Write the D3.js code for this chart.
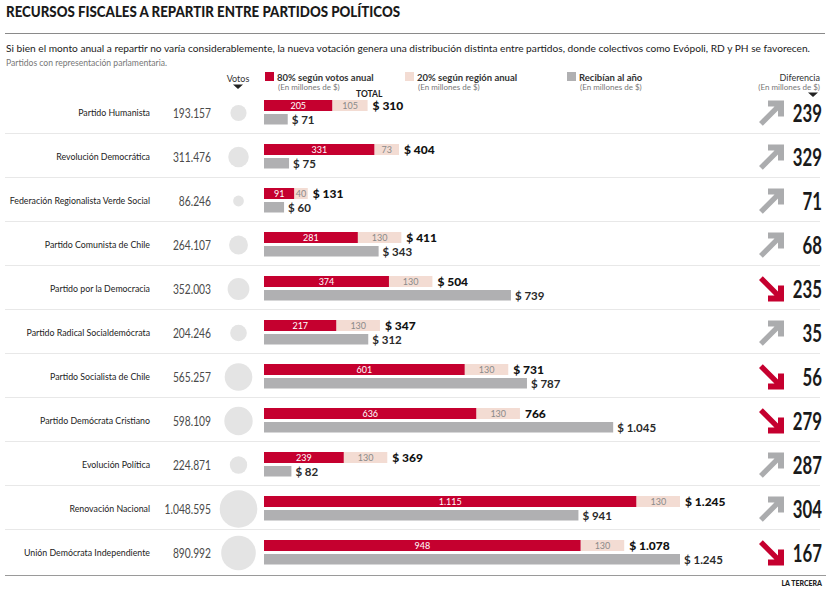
<!DOCTYPE html>
<html><head><meta charset="utf-8">
<script src="https://cdn.jsdelivr.net/npm/d3@7"></script>
<style>
body{margin:0;background:#fff;}
svg{display:block;}
text{font-family:Lato,"Open Sans",sans-serif;}
</style></head><body>
<svg id="chart" width="840" height="589"></svg>
<script>
const parties = ["Partido Humanista","Revolución Democrática","Federación Regionalista Verde Social","Partido Comunista de Chile","Partido por la Democracia","Partido Radical Socialdemócrata","Partido Socialista de Chile","Partido Demócrata Cristiano","Evolución Política","Renovación Nacional","Unión Demócrata Independiente"];
const votes = [193157,311476,86246,264107,352003,204246,565257,598109,224871,1048595,890992];
const votesLabels = ["193.157","311.476","86.246","264.107","352.003","204.246","565.257","598.109","224.871","1.048.595","890.992"];
const byVotes = [205,331,91,281,374,217,601,636,239,1115,948];
const byVotesLabels = ["205","331","91","281","374","217","601","636","239","1.115","948"];
const byRegion = [105,73,40,130,130,130,130,130,130,130,130];
const totalLabels = ["$ 310","$ 404","$ 131","$ 411","$ 504","$ 347","$ 731","766","$ 369","$ 1.245","$ 1.078"];
const received = [71,75,60,343,739,312,787,1045,82,941,1245];
const receivedLabels = ["$ 71","$ 75","$ 60","$ 343","$ 739","$ 312","$ 787","$ 1.045","$ 82","$ 941","$ 1.245"];
const diffValues = [239,329,71,68,235,35,56,279,287,304,167];
const diffDirection = ["up","up","up","up","down","up","down","down","up","up","down"];

const RED="#c5002f", PINK="#f3dcd3", GRAY="#b0b0b2", ARROWGRAY="#abacae";
const svg = d3.select("#chart");

// Header
svg.append("text").attr("x",6).attr("y",17).attr("font-size",14.5).attr("font-weight",900)
  .attr("fill","#1a1a1a").attr("textLength",394).attr("lengthAdjust","spacingAndGlyphs")
  .text("RECURSOS FISCALES A REPARTIR ENTRE PARTIDOS POLÍTICOS");
svg.append("line").attr("x1",5).attr("x2",825).attr("y1",33.5).attr("y2",33.5).attr("stroke","#8a8a8a").attr("stroke-width",1);
svg.append("text").attr("x",6).attr("y",52).attr("font-size",10).attr("fill","#1a1a1a")
  .attr("textLength",804).attr("lengthAdjust","spacingAndGlyphs")
  .text("Si bien el monto anual a repartir no varía considerablemente, la nueva votación genera una distribución distinta entre partidos, donde colectivos como Evópoli, RD y PH se favorecen.");
svg.append("text").attr("x",6).attr("y",66).attr("font-size",8.5).attr("fill","#777")
  .attr("textLength",161).attr("lengthAdjust","spacingAndGlyphs")
  .text("Partidos con representación parlamentaria.");

// Legend
const lg = svg.append("g");
lg.append("text").attr("x",238).attr("y",82).attr("text-anchor","middle").attr("font-size",9).attr("fill","#333").text("Votos");
lg.append("path").attr("d","M233,84.5 L243,84.5 L238,89 Z").attr("fill","#222");
const legendItems = [
  {x:265,color:RED,title:"80% según votos anual"},
  {x:405,color:PINK,title:"20% según región anual"},
  {x:567,color:GRAY,title:"Recibían al año"}
];
legendItems.forEach(d=>{
  lg.append("rect").attr("x",d.x).attr("y",72).attr("width",9).attr("height",9).attr("fill",d.color);
  lg.append("text").attr("x",d.x+12).attr("y",80.5).attr("font-size",9.5).attr("font-weight",700).attr("fill","#333").text(d.title);
  lg.append("text").attr("x",d.x+13).attr("y",90).attr("font-size",8).attr("fill","#777").text("(En millones de $)");
});
lg.append("text").attr("x",356).attr("y",97).attr("font-size",8.5).attr("font-weight",700).attr("fill","#222").text("TOTAL");
lg.append("text").attr("x",820).attr("y",80.5).attr("text-anchor","end").attr("font-size",9).attr("fill","#333").text("Diferencia");
lg.append("text").attr("x",820).attr("y",90).attr("text-anchor","end").attr("font-size",8).attr("fill","#777").text("(En millones de $)");
lg.append("path").attr("d","M808,92.5 L818,92.5 L813,97 Z").attr("fill","#222");

// Scales
const y = d3.scaleBand().domain(d3.range(parties.length)).range([89,573]);
const x = d3.scaleLinear().domain([0,1245]).range([264,680]);
const r = d3.scaleSqrt().domain([0,1048595]).range([0,18.8]);

// separators
svg.append("g").selectAll("line").data(d3.range(1,parties.length)).join("line")
  .attr("x1",5).attr("x2",820).attr("y1",i=>y(i)+0.5).attr("y2",i=>y(i)+0.5)
  .attr("stroke","#e8e8e8").attr("stroke-width",1.2);
svg.append("line").attr("x1",5).attr("x2",826).attr("y1",575.5).attr("y2",575.5).attr("stroke","#9a9a9a").attr("stroke-width",1);

const rows = svg.append("g").selectAll("g").data(parties).join("g")
  .attr("transform",(d,i)=>`translate(0,${y(i)+y.bandwidth()/2+2})`);

rows.append("text").attr("x",150).attr("y",3).attr("text-anchor","end").attr("font-size",8.8).attr("fill","#222").text(d=>d);
rows.append("text").attr("transform","translate(211,4.5) scale(0.82,1)").attr("text-anchor","end")
  .attr("font-size",12.5).attr("fill","#4a4a4a").text((d,i)=>votesLabels[i]);
rows.append("circle").attr("cx",238.5).attr("cy",0).attr("r",(d,i)=>r(votes[i])).attr("fill","#e4e4e4");

// bars
rows.append("rect").attr("x",x(0)).attr("y",-13).attr("height",11)
  .attr("width",(d,i)=>x(byVotes[i])-x(0)).attr("fill",RED);
rows.append("rect").attr("x",(d,i)=>x(byVotes[i])).attr("y",-13).attr("height",11)
  .attr("width",(d,i)=>x(byVotes[i]+byRegion[i])-x(byVotes[i])).attr("fill",PINK);
rows.append("rect").attr("x",x(0)).attr("y",1).attr("height",10.5)
  .attr("width",(d,i)=>x(received[i])-x(0)).attr("fill",GRAY);

rows.append("text").attr("x",(d,i)=>(x(0)+x(byVotes[i]))/2).attr("y",-4.3).attr("text-anchor","middle")
  .attr("font-size",9).attr("fill","#fff").text((d,i)=>byVotesLabels[i]);
rows.append("text").attr("x",(d,i)=>(x(byVotes[i])+x(byVotes[i]+byRegion[i]))/2).attr("y",-4.3).attr("text-anchor","middle")
  .attr("font-size",9).attr("fill","#8a8a8a").text((d,i)=>byRegion[i]);
rows.append("text").attr("x",(d,i)=>x(byVotes[i]+byRegion[i])+5).attr("y",-3.5)
  .attr("font-size",12).attr("font-weight",900).attr("fill","#111").text((d,i)=>totalLabels[i]);
rows.append("text").attr("x",(d,i)=>x(received[i])+4).attr("y",10.5)
  .attr("font-size",11.5).attr("font-weight",700).attr("fill","#2a2a2a").text((d,i)=>receivedLabels[i]);

// difference arrows
const arrowUp = "M0,25 L15.5,9.5 L9,9.5 L9,3.5 L25,3.5 L25,19.5 L19,19.5 L19,13.5 L3.8,28.8 Z";
rows.append("path")
  .attr("d",arrowUp)
  .attr("transform",(d,i)=>diffDirection[i]==="up" ? "translate(759,-16)" : "translate(759,16) scale(1,-1)")
  .attr("fill",(d,i)=>diffDirection[i]==="up"?ARROWGRAY:RED);
rows.append("text").attr("transform","translate(822,9) scale(0.7,1)").attr("text-anchor","end")
  .attr("font-family","'Liberation Sans','Arial',sans-serif")
  .attr("font-size",24).attr("font-weight",700).attr("fill","#1a1a1a").text((d,i)=>diffValues[i]);

svg.append("text").attr("x",822).attr("y",586).attr("text-anchor","end").attr("font-size",7).attr("font-weight",900).attr("fill","#222").text("LA TERCERA");
</script></body></html>
